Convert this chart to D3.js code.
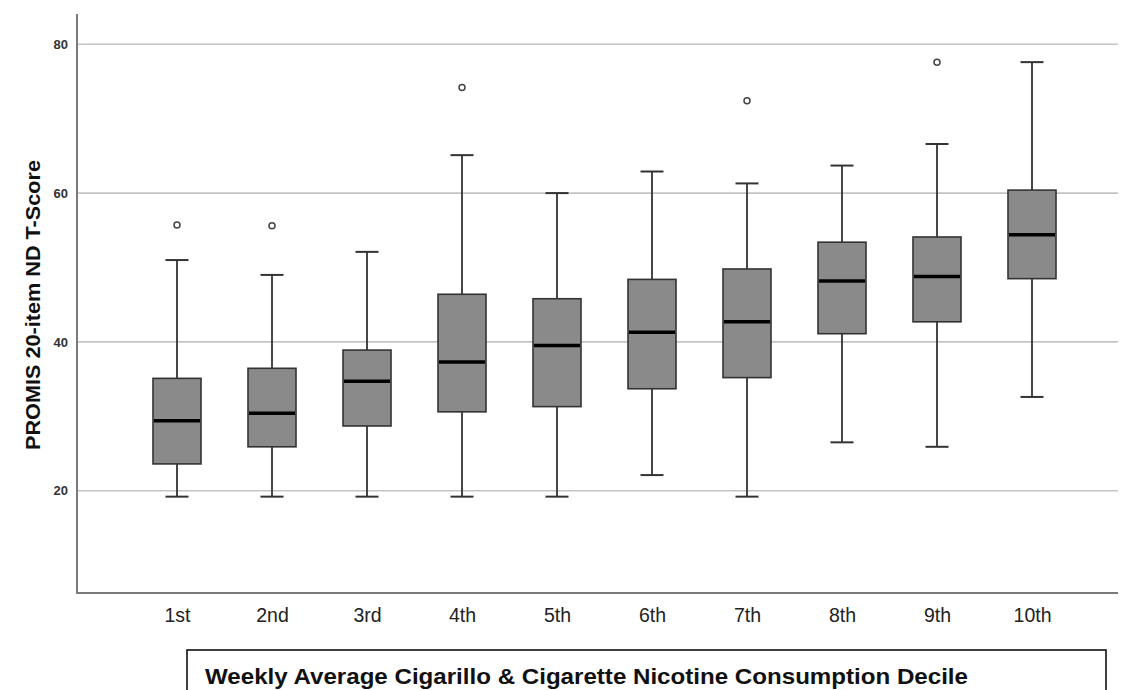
<!DOCTYPE html>
<html>
<head>
<meta charset="utf-8">
<script src="https://cdn.jsdelivr.net/npm/d3@7"></script>
<style>
  html, body { margin: 0; padding: 0; background: #fff; }
  svg { display: block; }
</style>
</head>
<body>
<svg id="chart" width="1121" height="690"></svg>
<script>
const categories = ["1st","2nd","3rd","4th","5th","6th","7th","8th","9th","10th"];
const lowerWhisker = [19.2, 19.2, 19.2, 19.2, 19.2, 22.1, 19.2, 26.5, 25.9, 32.6];
const q1           = [23.6, 25.9, 28.7, 30.6, 31.3, 33.7, 35.2, 41.1, 42.7, 48.5];
const median       = [29.4, 30.4, 34.7, 37.3, 39.5, 41.3, 42.7, 48.2, 48.8, 54.4];
const q3           = [35.1, 36.45, 38.9, 46.4, 45.8, 48.4, 49.8, 53.4, 54.1, 60.4];
const upperWhisker = [51.0, 49.0, 52.1, 65.1, 60.0, 62.9, 61.3, 63.7, 66.6, 77.6];
const outliers     = [[55.7], [55.6], [], [74.2], [], [], [72.4], [], [77.6], []];
const yTicks = [20, 40, 60, 80];
const yTitle = "PROMIS 20-item ND T-Score";
const xTitle = "Weekly Average Cigarillo & Cigarette Nicotine Consumption Decile";

const svg = d3.select("#chart");
const plot = {left: 77, right: 1118, top: 14, bottom: 593};
const FONT = "Liberation Sans, Arial, sans-serif";

const y = d3.scaleLinear().domain([6.25, 84.07]).range([plot.bottom, plot.top]);
const x = d3.scalePoint().domain(categories).range([177, 1032]);
const boxW = 48, capW = 23;

// gridlines
svg.append("g").selectAll("line").data(yTicks).join("line")
  .attr("x1", plot.left).attr("x2", plot.right)
  .attr("y1", d => y(d)).attr("y2", d => y(d))
  .attr("stroke", "#c4c4c4").attr("stroke-width", 1.6);

// axes lines
svg.append("line").attr("x1", plot.left).attr("x2", plot.left)
  .attr("y1", plot.top).attr("y2", plot.bottom)
  .attr("stroke", "#7a7a7a").attr("stroke-width", 2);
svg.append("line").attr("x1", plot.left - 1).attr("x2", plot.right)
  .attr("y1", plot.bottom).attr("y2", plot.bottom)
  .attr("stroke", "#7a7a7a").attr("stroke-width", 2);

// y tick labels
const yAxis = d3.axisLeft(y).tickValues(yTicks).tickSize(0).tickPadding(9);
const ga = svg.append("g").attr("transform", `translate(${plot.left},0)`).call(yAxis);
ga.select(".domain").remove();
ga.selectAll("text").attr("font-family", FONT)
  .attr("font-size", 13).attr("font-weight", "bold").attr("fill", "#333");

// x tick labels
const xAxis = d3.axisBottom(x).tickSize(0).tickPadding(15);
const gx = svg.append("g").attr("transform", `translate(0,${plot.bottom})`).call(xAxis);
gx.select(".domain").remove();
gx.selectAll("text").attr("font-family", FONT)
  .attr("font-size", 19.5).attr("fill", "#222");

// y title
svg.append("text")
  .attr("transform", `translate(40,305) rotate(-90)`)
  .attr("text-anchor", "middle")
  .attr("font-family", FONT)
  .attr("font-size", 21).attr("font-weight", "bold").attr("fill", "#111")
  .attr("textLength", 290).attr("lengthAdjust", "spacingAndGlyphs")
  .text(yTitle);

// boxes
const data = categories.map((c, i) => ({c, lo: lowerWhisker[i], q1: q1[i], med: median[i], q3: q3[i], hi: upperWhisker[i], out: outliers[i]}));
const g = svg.append("g").selectAll("g").data(data).join("g");
const stroke = "#333";
g.append("line").attr("x1", d => x(d.c)).attr("x2", d => x(d.c))
  .attr("y1", d => y(d.hi)).attr("y2", d => y(d.q3)).attr("stroke", stroke).attr("stroke-width", 1.8);
g.append("line").attr("x1", d => x(d.c)).attr("x2", d => x(d.c))
  .attr("y1", d => y(d.q1)).attr("y2", d => y(d.lo)).attr("stroke", stroke).attr("stroke-width", 1.8);
g.append("line").attr("x1", d => x(d.c) - capW/2).attr("x2", d => x(d.c) + capW/2)
  .attr("y1", d => y(d.hi)).attr("y2", d => y(d.hi)).attr("stroke", stroke).attr("stroke-width", 2);
g.append("line").attr("x1", d => x(d.c) - capW/2).attr("x2", d => x(d.c) + capW/2)
  .attr("y1", d => y(d.lo)).attr("y2", d => y(d.lo)).attr("stroke", stroke).attr("stroke-width", 2);
g.append("rect").attr("x", d => x(d.c) - boxW/2).attr("width", boxW)
  .attr("y", d => y(d.q3)).attr("height", d => y(d.q1) - y(d.q3))
  .attr("fill", "#8a8a8a").attr("stroke", stroke).attr("stroke-width", 1.6);
g.append("line").attr("x1", d => x(d.c) - boxW/2 + 1).attr("x2", d => x(d.c) + boxW/2 - 1)
  .attr("y1", d => y(d.med)).attr("y2", d => y(d.med)).attr("stroke", "#000").attr("stroke-width", 3.5);
g.selectAll("circle").data(d => d.out.map(v => ({c: d.c, v}))).join("circle")
  .attr("cx", d => x(d.c)).attr("cy", d => y(d.v)).attr("r", 3)
  .attr("fill", "#fff").attr("stroke", "#444").attr("stroke-width", 1.5);

// x title box
svg.append("rect").attr("x", 187).attr("y", 650).attr("width", 919).attr("height", 50)
  .attr("fill", "none").attr("stroke", "#111").attr("stroke-width", 1.6);
svg.append("text").attr("x", 205).attr("y", 684)
  .attr("font-family", FONT)
  .attr("font-size", 22).attr("font-weight", "bold").attr("fill", "#111")
  .attr("textLength", 763).attr("lengthAdjust", "spacingAndGlyphs")
  .text(xTitle);
</script>
</body>
</html>
